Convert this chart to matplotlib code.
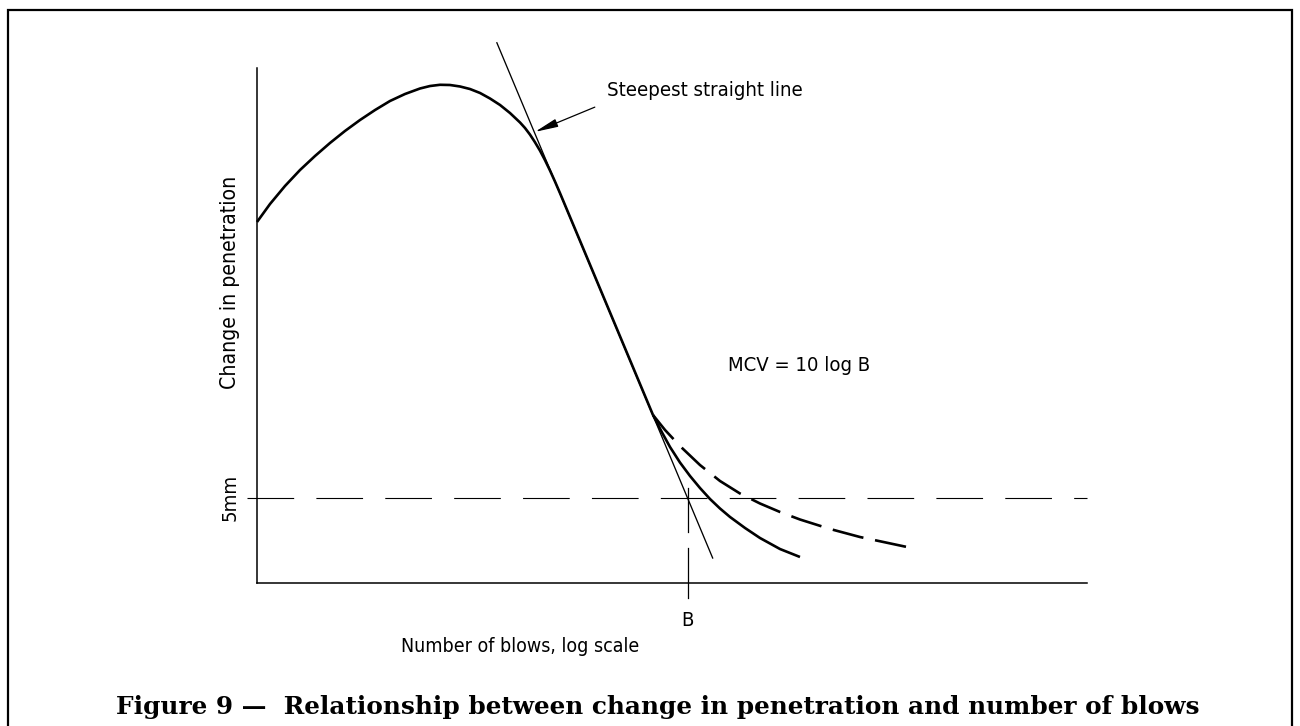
import matplotlib
matplotlib.use("Agg")
import matplotlib.pyplot as plt
import numpy as np

# ---- data (chart units: x 0..100 along log-blows axis, y 0..100 along penetration axis) ----
main_x = [0.0, 1.566, 3.373, 5.181, 6.988, 8.795, 10.60, 12.41, 14.22, 16.02, 17.83,
          19.64, 20.84, 22.05, 23.25, 24.46, 25.66, 26.87, 28.07, 29.28, 30.48, 31.69,
          32.29, 32.89, 33.49, 34.10, 34.70, 35.30, 35.90, 36.51, 38.92, 42.53, 47.71]
main_y = [70.10, 73.59, 77.09, 80.19, 82.91, 85.44, 87.77, 89.90, 91.84, 93.59, 94.95,
          96.02, 96.50, 96.74, 96.70, 96.41, 95.92, 95.15, 94.08, 92.82, 91.26, 89.42,
          88.35, 87.07, 85.59, 83.94, 82.10, 80.10, 77.96, 75.69, 66.43, 52.54, 32.62]

solid_tail_x = [47.71, 48.80, 49.76, 50.96, 52.17, 53.37, 54.58, 55.78, 56.99, 58.80,
                60.60, 63.01, 65.42]
solid_tail_y = [32.62, 29.22, 26.41, 23.40, 20.78, 18.45, 16.31, 14.47, 12.82, 10.68,
                8.74, 6.60, 5.05]

dashed_tail_x = [47.71, 49.16, 50.96, 53.37, 55.78, 58.19, 60.60, 63.01, 65.42, 69.04,
                 72.65, 78.31]
dashed_tail_y = [32.62, 29.71, 26.60, 22.91, 19.81, 17.38, 15.44, 13.79, 12.33, 10.49,
                 8.93, 6.99]

tangent_x = [28.9, 54.9]
tangent_y = [104.9, 4.85]

five_mm_y = 16.6
five_mm_x = [-1.2, 100.0]
B_x = 51.9
B_line_y = [18.4, 9.9, np.nan, 6.8, -2.9]

labels = {
    "ylabel": "Change in penetration",
    "xlabel": "Number of blows, log scale",
    "five": "5mm",
    "B": "B",
    "steep": "Steepest straight line",
    "mcv": "MCV = 10 log B",
    "caption": "Figure 9 \u2014  Relationship between change in penetration and number of blows",
}

W, H = 1300, 726
fig = plt.figure(figsize=(W / 100, H / 100), dpi=100)
fig.patch.set_facecolor("white")

# frame around whole figure
fr = fig.add_axes([0, 0, 1, 1])
fr.set_xlim(0, W)
fr.set_ylim(H, 0)
fr.axis("off")
fr.plot([8, 8, 1292, 1292], [740, 10, 10, 740], color="black", lw=1.6,
        solid_joinstyle="miter", clip_on=False)

ax = fig.add_axes([257 / W, (H - 583) / H, 830 / W, 515 / H])
ax.set_xlim(0, 100)
ax.set_ylim(0, 100)
ax.patch.set_alpha(0)
for s in ["top", "right"]:
    ax.spines[s].set_visible(False)
for s in ["left", "bottom"]:
    ax.spines[s].set_linewidth(1.1)
    ax.spines[s].set_color("black")
ax.set_xticks([])
ax.set_yticks([])

font = dict(family="DejaVu Sans", fontstretch="condensed", fontsize=14.6, color="black")

# curves
ax.plot(main_x, main_y, color="black", lw=1.9, solid_capstyle="butt",
        solid_joinstyle="round", clip_on=False)
ax.plot(solid_tail_x, solid_tail_y, color="black", lw=1.9, solid_capstyle="butt",
        solid_joinstyle="round", clip_on=False)
ax.plot(dashed_tail_x, dashed_tail_y, color="black", lw=1.9,
        linestyle=(0, (12, 4.5)), dash_capstyle="butt", clip_on=False)
ax.plot(tangent_x, tangent_y, color="black", lw=0.95, clip_on=False)

# 5 mm line
ax.plot(five_mm_x, [five_mm_y, five_mm_y], color="black", lw=0.8,
        linestyle=(0, (42, 20)), clip_on=False)

# B marker line
ax.plot([B_x] * len(B_line_y), B_line_y, color="black", lw=0.9, clip_on=False)

# texts
ax.text(-3.3, 58.3, labels["ylabel"], rotation=90, ha="center", va="center",
        **{**font, "fontsize": 15.2})
ax.text(-3.3, five_mm_y, labels["five"], rotation=90, ha="center", va="center", **font)
ax.text(B_x, -7.2, labels["B"], ha="center", va="center", **font)
ax.text(31.7, -12.4, labels["xlabel"], ha="center", va="center",
        **{**font, "fontsize": 14.0})
ax.text(42.2, 95.6, labels["steep"], ha="left", va="center", **font)
ax.text(56.7, 42.3, labels["mcv"], ha="left", va="center", **font)

ax.annotate("", xy=(33.5, 87.6), xytext=(40.7, 92.4),
            arrowprops=dict(arrowstyle="-|>,head_length=1.4,head_width=0.25",
                            color="black", lw=0.9, shrinkA=0, shrinkB=0),
            annotation_clip=False)

fig.text(657.5 / W, 1 - 707 / H, labels["caption"], ha="center", va="center",
         family="DejaVu Serif", fontweight="bold", fontsize=17.8)

fig.savefig("out.png", dpi=100, facecolor="white")
